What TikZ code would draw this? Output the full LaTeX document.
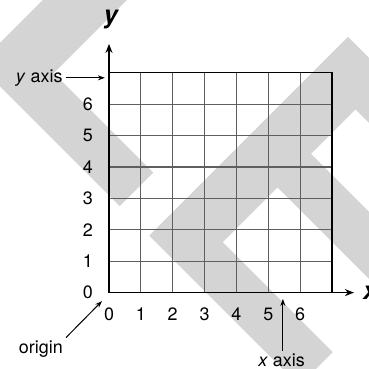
\documentclass[tikz,border=0pt]{standalone}
\usepackage{fontspec}
\setmainfont{TeX Gyre Heros}
\usepackage{xcolor}
\usepackage{tikz}
\usetikzlibrary{arrows.meta}

\definecolor{wmgray}{RGB}{212,212,212}
\definecolor{gridgray}{RGB}{95,95,95}

\begin{document}
\begin{tikzpicture}[
  x={(31.85bp,0)}, y={(0,31.4bp)},
  every node/.style={font=\fontsize{18}{20}\selectfont, inner sep=3bp},
  axislbl/.style={font=\fontsize{25}{27}\selectfont\bfseries\itshape, inner sep=0pt},
  axisline/.style={black, line width=1.4bp, -{Stealth[length=9bp,width=7bp]}},
  pointer/.style={black, line width=1bp, -{Stealth[length=7bp,width=5bp]}},
  gridline/.style={gridgray, line width=1.1bp},
  wmark/.style={fill=wmgray},
]
  \clip (-3.4223,-2.4331) rectangle (8.1633,9.3185);
  \fill[white] (-3.4223,-2.4331) rectangle (8.1633,9.3185);

  % Watermark bands (pixel units of the page)
  \begin{scope}[x=1bp, y=-1bp, shift={(-109bp,292.6bp)}]
    \fill[wmark] (43,0) -- (127,0) -- (53.75,73.25) -- (153.25,172.75)
      -- (119.75,206.25) -- (0,86.5) -- (0,43) -- cycle;
    \fill[wmark] (149.25,235.75) -- (348,37) -- (400,89) -- (400,154)
      -- (355.5,109.5) -- (311,154) -- (420,263) -- (420,330)
      -- (277.5,187.5) -- (222.75,242.25) -- (332.75,352.25)
      -- (299.25,385.75) -- cycle;
  \end{scope}

  % Grid
  \draw[gridline, step=1] (0,0) grid (7,7);
  \draw[black, line width=1.1bp] (0,7) -- (7,7) -- (7,0);

  % Axes
  \coordinate (o) at (0,0);
  \coordinate (ytip) at (0,7.92);
  \coordinate (xtip) at (7.69,0);
  \draw[axisline] (o) -- (ytip);
  \draw[axisline] (o) -- (xtip);
  \node[axislbl] (ylbl) at (0.06,8.69) {y};
  \node[axislbl] (xlbl) at (8.2,0) {x};

  % Scale on the y axis
  \node (y0) at (-0.66,0) {0};  \node (y1) at (-0.66,1) {1};
  \node (y2) at (-0.66,2) {2};  \node (y3) at (-0.66,3) {3};
  \node (y4) at (-0.66,4) {4};  \node (y5) at (-0.66,5) {5};
  \node (y6) at (-0.66,6) {6};

  % Scale on the x axis
  \node (x0) at (0,-0.68) {0};  \node (x1) at (1,-0.68) {1};
  \node (x2) at (2,-0.68) {2};  \node (x3) at (3,-0.68) {3};
  \node (x4) at (4,-0.68) {4};  \node (x5) at (5,-0.68) {5};
  \node (x6) at (6,-0.68) {6};

  % Callouts
  \node (yaxis) at (-2.19,6.84) {\textit{y} axis};
  \coordinate (yarr) at (-0.13,6.84);
  \draw[pointer] (yaxis) -- (yarr);

  \node (origin) at (-2.14,-1.80) {origin};
  \coordinate (oarr) at (-0.22,-0.27);
  \draw[pointer] (origin.north east) -- (oarr);

  \node (xaxis) at (5.42,-2.16) {\textit{x} axis};
  \coordinate (xarr) at (5.46,-0.2);
  \draw[pointer] (xaxis.north -| xarr) -- (xarr);
\end{tikzpicture}
\end{document}
